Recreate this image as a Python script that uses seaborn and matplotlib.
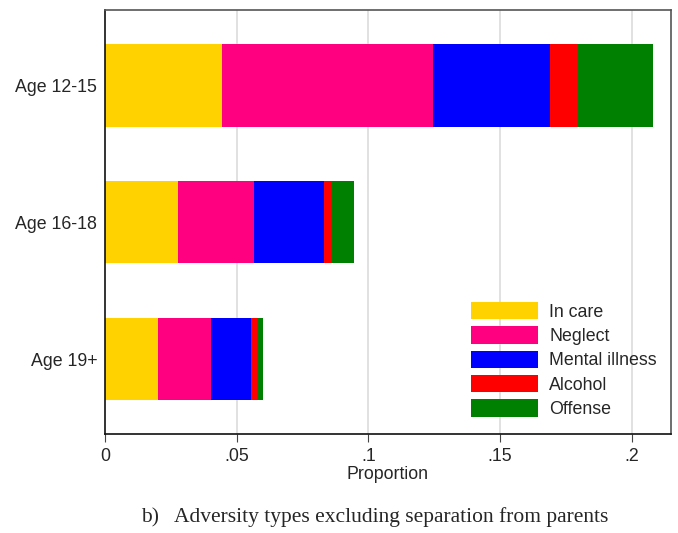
import numpy as np
import pandas as pd
import matplotlib
matplotlib.use("Agg")
import matplotlib.pyplot as plt
import seaborn as sns

groups = ["Age 12-15", "Age 16-18", "Age 19+"]
types = ["In care", "Neglect", "Mental illness", "Alcohol", "Offense"]
in_care = [0.0444, 0.0276, 0.0202]
neglect = [0.0803, 0.0290, 0.0200]
mental_illness = [0.0443, 0.0266, 0.0153]
alcohol = [0.0106, 0.0031, 0.0023]
offense = [0.0283, 0.0081, 0.0021]
colors = ["#FFD200", "#FF0080", "#0000FF", "#FF0000", "#008000"]
xticks = [0, 0.05, 0.1, 0.15, 0.2]
xtick_labels = ["0", ".05", ".1", ".15", ".2"]

sns.set_theme(style="white")
plt.rcParams["font.family"] = ["Liberation Sans", "DejaVu Sans"]

FS = 12.8

series = [in_care, neglect, mental_illness, alcohol, offense]
cum = np.cumsum(np.array(series), axis=0)

fig = plt.figure(figsize=(6.78, 5.33), dpi=100)
ax = fig.add_axes([105 / 678, 1 - 434 / 533, (671 - 105) / 678, (434 - 10) / 533])

# stacked bars: draw cumulative totals from the outermost layer inward
for i in range(len(types) - 1, -1, -1):
    df = pd.DataFrame({"group": groups, "value": cum[i]})
    sns.barplot(data=df, x="value", y="group", order=groups, color=colors[i],
                saturation=1, width=0.6, orient="h", ax=ax, label=types[i],
                edgecolor="none", linewidth=0, zorder=2)

ax.set_xlim(0, 0.2149)
ax.set_ylim(2.548, -0.552)
ax.set_xticks(xticks)
ax.set_xticklabels(xtick_labels, fontsize=FS)
ax.tick_params(axis="y", labelsize=FS, length=0, pad=5.5)
ax.tick_params(axis="x", length=5.8, width=0.8, color="#444444", direction="out",
               pad=4, bottom=True)
ax.set_ylabel("")
ax.set_xlabel("Proportion", fontsize=FS, labelpad=1)

for v in xticks[1:]:
    ax.axvline(v, color="#dcdcdc", linewidth=1.2, zorder=0)

for side in ["top", "right"]:
    ax.spines[side].set_color("#555555")
    ax.spines[side].set_linewidth(1.2)
for side in ["left", "bottom"]:
    ax.spines[side].set_color("#111111")
    ax.spines[side].set_linewidth(1.2)

handles, labels = ax.get_legend_handles_labels()
order = [labels.index(t) for t in types]
ax.legend([handles[k] for k in order], types, loc="upper left",
          bbox_to_anchor=((471 - 105) / 566, 1 - (302 - 10) / 424),
          frameon=False, fontsize=FS, handlelength=3.77, handleheight=1.12,
          labelspacing=0.32, handletextpad=0.62, borderaxespad=0,
          borderpad=0)

fig.text(375 / 678, 1 - 517 / 533,
         "b)   Adversity types excluding separation from parents",
         ha="center", va="center", fontsize=15.5,
         family=["Liberation Serif", "DejaVu Serif"])

fig.savefig("out.png", dpi=100)
